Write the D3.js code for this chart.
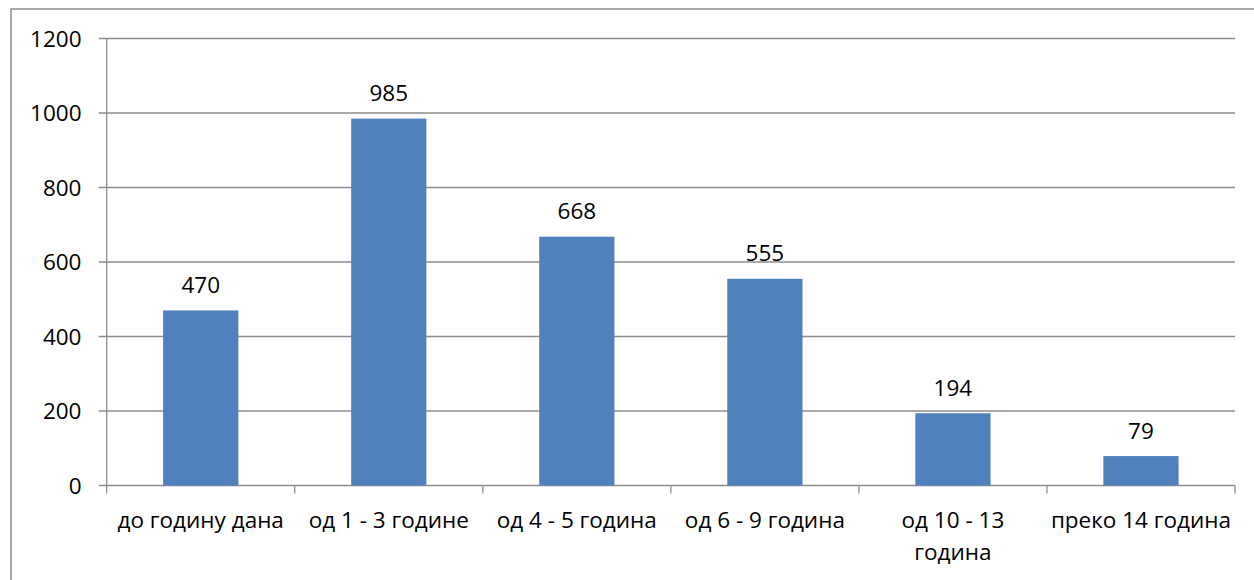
<!DOCTYPE html>
<html><head><meta charset="utf-8">
<script src="https://cdn.jsdelivr.net/npm/d3@7"></script>
<style>body{margin:0;background:#fff}svg{display:block}</style>
</head><body>
<svg id="c" width="1254" height="580"></svg>
<script>
const categories = ["до годину дана", "од 1 - 3 године", "од 4 - 5 година", "од 6 - 9 година", "од 10 - 13\nгодина", "преко 14 година"];
const values = [470, 985, 668, 555, 194, 79];
const yTicks = [0, 200, 400, 600, 800, 1000, 1200];

const svg = d3.select("#c");
const font = "'Open Sans', sans-serif";
const fs = 22.5;
const gray = "#8c8c8c";
const pLeft = 106.7, pRight = 1235, pTop = 38.5, pBottom = 485.5;

svg.append("rect").attr("x", 11).attr("y", 9).attr("width", 1300).attr("height", 700)
  .attr("fill", "none").attr("stroke", gray).attr("stroke-width", 1.5);

const x = d3.scaleBand().domain(categories).range([pLeft, pRight]).padding(0);
const y = d3.scaleLinear().domain([0, 1200]).range([pBottom, pTop]);

// gridlines
svg.append("g").selectAll("line").data(yTicks).join("line")
  .attr("x1", pLeft - 8).attr("x2", pRight)
  .attr("y1", d => y(d)).attr("y2", d => y(d))
  .attr("stroke", gray).attr("stroke-width", 1.3);

// y axis line
svg.append("line").attr("x1", pLeft).attr("x2", pLeft).attr("y1", pTop).attr("y2", pBottom)
  .attr("stroke", gray).attr("stroke-width", 1.3);

// y labels
svg.append("g").selectAll("text").data(yTicks).join("text")
  .attr("x", 81.5).attr("y", d => y(d)).attr("dy", "0.36em")
  .attr("text-anchor", "end").attr("font-family", font).attr("font-size", fs).attr("fill", "#000")
  .text(d => d);

// x ticks
const tickPos = categories.map(c => x(c)).concat([pRight]);
svg.append("g").selectAll("line").data(tickPos).join("line")
  .attr("x1", d => d).attr("x2", d => d).attr("y1", pBottom).attr("y2", pBottom + 8)
  .attr("stroke", gray).attr("stroke-width", 1.3);

// bars
const bw = x.bandwidth() * 0.4;
svg.append("g").selectAll("rect").data(values).join("rect")
  .attr("x", (d, i) => x(categories[i]) + x.bandwidth() / 2 - bw / 2)
  .attr("width", bw)
  .attr("y", d => y(d)).attr("height", d => pBottom - y(d))
  .attr("fill", "#4F81BD");

// value labels
svg.append("g").selectAll("text").data(values).join("text")
  .attr("x", (d, i) => x(categories[i]) + x.bandwidth() / 2)
  .attr("y", d => y(d) - 17.5)
  .attr("text-anchor", "middle").attr("font-family", font).attr("font-size", fs).attr("fill", "#000")
  .text(d => d);

// category labels
const cl = svg.append("g").selectAll("text").data(categories).join("text")
  .attr("text-anchor", "middle").attr("font-family", font).attr("font-size", fs).attr("fill", "#000");
cl.each(function(d) {
  const t = d3.select(this);
  const cx = x(d) + x.bandwidth() / 2;
  d.split("\n").forEach((ln, i) => {
    t.append("tspan").attr("x", cx).attr("y", 528 + i * 32).text(ln);
  });
});
</script>
</body></html>
